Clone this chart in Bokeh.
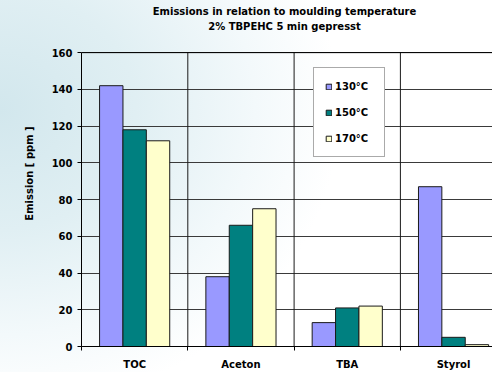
from bokeh.plotting import figure
from bokeh.models import (Range1d, FixedTicker, Label, Legend, LegendItem,
                          ColumnDataSource)
from bokeh.embed import file_html
from bokeh.resources import INLINE

# Emission data (ppm) per substance and moulding temperature
categories = ["TOC", "Aceton", "TBA", "Styrol"]
series_names = ["130°C", "150°C", "170°C"]
emis_130 = [142, 38, 13, 87]
emis_150 = [118, 66, 21, 5]
emis_170 = [112, 75, 22, 1]
y_ticks = [0, 20, 40, 60, 80, 100, 120, 140, 160]
y_max = 160

colors = ["#9999FF", "#008080", "#FFFFCC"]
FONT = "DejaVu Sans"
FS = "10px"

W, H = 492, 372
left, bottom = 81, 25
frame_h = H - bottom          # frame reaches the top edge; titles sit inside it
cat_px = 106.3                # pixels per category
unit_px = 1.842               # pixels per ppm
frame_w = W - left
x_end = frame_w / cat_px
y_end = frame_h / unit_px

p = figure(width=W, height=H, output_backend="svg", toolbar_location=None,
           x_range=Range1d(0, x_end), y_range=Range1d(0, y_end),
           min_border_left=left, min_border_right=0, min_border_top=0,
           min_border_bottom=bottom,
           border_fill_color=None, background_fill_color=None,
           outline_line_color=None,
           styles={"background": "radial-gradient(ellipse 340px 300px at 0px 110px, "
                                 "#d2e7ed 0%, #e0eff3 40%, #f3f9fb 75%, #ffffff 100%)"})

# horizontal grid at the value ticks
p.ygrid.ticker = FixedTicker(ticks=y_ticks)
p.ygrid.grid_line_color = "#3a3a3a"
p.ygrid.grid_line_width = 1
p.xgrid.visible = False

# vertical separators between categories, up to the top of the value axis
seps = list(range(1, len(categories)))
p.segment(x0=seps, y0=[0] * len(seps), x1=seps, y1=[y_max] * len(seps),
          line_color="#1a1a1a", line_width=1)
# top border line
p.line(x=[0, x_end], y=[y_max, y_max], line_color="#000000", line_width=1)

centers = [i + 0.5 for i in range(len(categories))]
bar_w = 0.22
offsets = [-bar_w, 0.0, bar_w]
items = []
for vals, name, col, off in zip([emis_130, emis_150, emis_170], series_names,
                                colors, offsets):
    src = ColumnDataSource(dict(x=[c + off for c in centers], top=vals))
    r = p.vbar(x="x", top="top", width=bar_w, bottom=0, source=src,
               fill_color=col, line_color="#1a1a1a", line_width=1)
    items.append(LegendItem(label=name, renderers=[r]))

# y axis
ya = p.yaxis[0]
ya.ticker = FixedTicker(ticks=y_ticks)
ya.bounds = (0, y_max)
ya.axis_line_color = "#000000"
ya.major_tick_out = 4
ya.major_tick_in = 0
ya.minor_tick_line_color = None
ya.major_label_standoff = 5
ya.major_label_text_font = FONT
ya.major_label_text_font_style = "bold"
ya.major_label_text_font_size = FS
ya.major_label_text_color = "#000000"
ya.axis_label = "Emission [ ppm ]"
ya.axis_label_text_font = FONT
ya.axis_label_text_font_style = "bold"
ya.axis_label_text_font_size = FS
ya.axis_label_text_color = "#000000"
ya.axis_label_standoff = 14

# x axis: category labels at centers, tick marks at boundaries
xa = p.xaxis[0]
xa.ticker = FixedTicker(ticks=centers, minor_ticks=list(range(len(categories) + 1)))
xa.major_label_overrides = {c: n for c, n in zip(centers, categories)}
xa.axis_line_color = "#000000"
xa.major_tick_line_color = None
xa.major_tick_out = 4
xa.minor_tick_out = 4
xa.minor_tick_in = 0
xa.minor_tick_line_color = "#000000"
xa.major_label_standoff = 8
xa.major_label_text_font = FONT
xa.major_label_text_font_style = "bold"
xa.major_label_text_font_size = FS
xa.major_label_text_color = "#000000"

legend = Legend(items=items, location=(232, 189), orientation="vertical",
                glyph_width=7, glyph_height=7, label_height=14, label_width=38,
                label_standoff=3, spacing=12, padding=11, margin=0,
                label_text_font=FONT, label_text_font_style="bold",
                label_text_font_size=FS, label_text_color="#000000",
                border_line_color="#555555", border_line_width=1,
                background_fill_color="#ffffff", background_fill_alpha=1)
p.add_layout(legend, "center")

# two-line title (label coordinates are relative to the plot frame)
for txt, yy in [("Emissions in relation to moulding temperature", 12),
                ("2% TBPEHC 5 min gepresst", 27)]:
    p.add_layout(Label(x=284 - left, y=frame_h - yy,
                       x_units="screen", y_units="screen",
                       text=txt, text_align="center", text_baseline="middle",
                       text_font=FONT, text_font_style="bold",
                       text_font_size=FS, text_color="#000000"))

open("out.html", "w").write(file_html(p, INLINE))
